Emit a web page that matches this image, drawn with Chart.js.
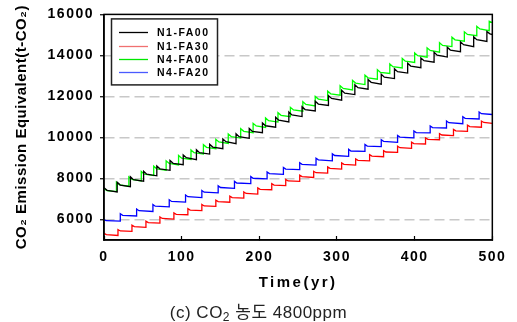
<!DOCTYPE html>
<html>
<head>
<meta charset="utf-8">
<script src="https://cdn.jsdelivr.net/npm/chart.js@4.4.1/dist/chart.umd.min.js"></script>
<style>
html, body { margin: 0; padding: 0; background: #fff; }
#wrap { position: relative; width: 517px; height: 322px; overflow: hidden; }
#caption {
    position: absolute; left: 0; top: 298px; width: 517px; line-height: 20px;
    text-align: center; color: #222; letter-spacing: 0.5px;
    font: 17px "Liberation Sans", "Noto Sans CJK KR", sans-serif;
}
#caption sub { font-size: 12px; vertical-align: -3px; line-height: 0; }
</style>
</head>
<body>
<div id="wrap">
    <canvas id="js--chart" width="517" height="322"></canvas>
    <div id="caption">(c) CO<sub>2</sub> 농도 4800ppm</div>
</div>
<script>
// years at which each series jumps up, value right after the jump,
// value a few years later (dip) and value just before the next jump
const blackYears = [0,17,34,51,68,85,102,119,136,153,170,187,204,221,238,255,272,289,306,323,340,357,374,391,408,425,442,459,476,493]
const blackHigh = [7550,7820,8080,8350,8610,8880,9150,9400,9670,9930,10180,10440,10710,10980,11240,11500,11770,12040,12300,12570,12830,13080,13350,13620,13880,14150,14400,14660,14910,15160]
const blackDip = [7420,7680,7940,8210,8470,8740,9010,9260,9530,9790,10040,10300,10570,10840,11100,11360,11630,11900,12160,12430,12690,12940,13210,13480,13740,14010,14260,14520,14770,15050]
const blackLow = [7340,7600,7870,8130,8400,8670,8920,9190,9450,9700,9960,10230,10500,10760,11020,11290,11560,11820,12090,12350,12600,12870,13140,13400,13670,13920,14180,14430,14680,15020]

const redYears = [0,18,36,54,72,90,108,126,144,162,180,198,216,234,252,270,288,306,324,342,360,378,396,414,432,450,468,486]
const redHigh = [5320,5510,5720,5920,6120,6320,6530,6730,6940,7140,7340,7540,7750,7950,8160,8350,8560,8760,8950,9160,9360,9570,9770,9980,10190,10390,10600,10800]
const redDip = [5260,5440,5650,5850,6050,6250,6460,6660,6870,7070,7270,7470,7680,7880,8090,8280,8490,8690,8880,9090,9290,9500,9700,9910,10120,10320,10530,10730]
const redLow = [5220,5420,5620,5820,6020,6230,6430,6640,6840,7040,7240,7450,7650,7860,8050,8260,8460,8650,8860,9060,9270,9470,9680,9890,10090,10300,10500,10690]

const greenYears = [0,16,32,48,64,80,96,112,128,144,160,176,192,208,224,240,256,272,288,304,320,336,352,368,384,400,416,432,448,464,480,496]
const greenHigh = [7500,7820,8080,8340,8600,8860,9120,9390,9650,9910,10170,10430,10690,10950,11210,11470,11740,12000,12260,12520,12780,13040,13300,13580,13850,14120,14370,14620,14890,15150,15420,15670]
const greenDip = [7410,7690,7950,8210,8470,8730,8990,9260,9520,9780,10040,10300,10560,10820,11080,11340,11610,11870,12130,12390,12650,12910,13170,13450,13720,13990,14240,14490,14760,15020,15290,15600]
const greenLow = [7360,7620,7880,8140,8400,8660,8930,9190,9450,9710,9970,10230,10490,10750,11010,11280,11540,11800,12060,12320,12580,12840,13120,13390,13660,13910,14160,14430,14690,14960,15210,15600]

const blueYears = [0,21,42,63,84,105,126,147,168,189,210,231,252,273,294,315,336,357,378,399,420,441,462,483]
const blueHigh = [5990,6280,6510,6730,6960,7190,7410,7640,7860,8090,8320,8540,8770,8990,9200,9420,9660,9890,10100,10320,10560,10800,11010,11240]
const blueDip = [5940,6200,6430,6650,6880,7110,7330,7560,7780,8010,8240,8460,8690,8910,9120,9340,9580,9810,10020,10240,10480,10720,10930,11160]
const blueLow = [5920,6170,6390,6620,6850,7070,7300,7520,7750,7980,8200,8430,8650,8860,9080,9320,9550,9760,9980,10220,10460,10670,10900,11120]

const xTicks = [0,100,200,300,400,500]
const yTicks = [6000,8000,10000,12000,14000,16000]
const endYear = 500

const FONT = '"Liberation Sans", Arial, sans-serif'
Chart.defaults.font.family = FONT
Chart.defaults.color = '#000'

// build one sawtooth line: jump, dip, low before next jump
const sawPoints = (years, high, dip, low, dipAfter) => {
    const pts = []
    for (let i = 0; i < years.length; i++) {
        const start = years[i]
        const end = i + 1 < years.length ? years[i + 1] : endYear
        pts.push({x: start, y: high[i]})
        if (start + dipAfter < end) pts.push({x: start + dipAfter, y: dip[i]})
        pts.push({x: end, y: low[i]})
    }
    return pts
}

// letter spacing of the axis texts: [tick labels, title]
const spacing = {x: ['1.5px', '2.5px'], y: ['1.5px', '0.5px']}
const LS = Chart.LinearScale.prototype
const baseLabels = LS.drawLabels
const baseTitle = LS.drawTitle
LS.drawLabels = function (area) {
    this.ctx.save()
    this.ctx.letterSpacing = spacing[this.id][0]
    baseLabels.call(this, area)
    this.ctx.restore()
}
LS.drawTitle = function () {
    this.ctx.save()
    this.ctx.letterSpacing = spacing[this.id][1]
    baseTitle.call(this)
    this.ctx.restore()
}

const framePlugin = {
    id: 'frame',
    afterDatasetsDraw(chart) {
        const {ctx, chartArea: a} = chart
        ctx.save()
        ctx.strokeStyle = '#000'
        ctx.lineWidth = 1.5
        ctx.strokeRect(a.left, a.top, a.right - a.left, a.bottom - a.top)
        ctx.restore()
    }
}

const boxLegend = {
    id: 'boxLegend',
    afterDraw(chart) {
        const {ctx, chartArea: a} = chart
        const x0 = a.left + 7.5, y0 = a.top + 4.5, w = 106, h = 66
        ctx.save()
        ctx.fillStyle = '#fff'
        ctx.fillRect(x0, y0, w, h)
        ctx.strokeStyle = '#222'
        ctx.lineWidth = 1.5
        ctx.strokeRect(x0, y0, w, h)
        ctx.font = 'bold 10.5px ' + FONT
        ctx.letterSpacing = '1.5px'
        ctx.textBaseline = 'middle'
        chart.data.datasets.forEach((ds, i) => {
            const y = Math.round(y0 + 13.3 + i * 13.35) + 0.5
            ctx.strokeStyle = ds.legendColor
            ctx.lineWidth = 1.3
            ctx.beginPath()
            ctx.moveTo(x0 + 7.5, y)
            ctx.lineTo(x0 + 36.5, y)
            ctx.stroke()
            ctx.fillStyle = '#000'
            ctx.fillText(ds.label, x0 + 45.5, y + 0.5)
        })
        ctx.restore()
    }
}

const line = (label, color, legendColor, pts) => ({
    label: label,
    data: pts,
    borderColor: color,
    legendColor: legendColor,
    borderWidth: 1.3,
    pointRadius: 0,
    tension: 0,
    fill: false
})

new Chart(document.getElementById('js--chart'), {
    type: 'line',
    data: {
        datasets: [
            line('N1-FA00', '#000000', '#000000', sawPoints(blackYears, blackHigh, blackDip, blackLow, 4)),
            line('N1-FA30', '#ff0000', '#f07070', sawPoints(redYears, redHigh, redDip, redLow, 3)),
            line('N4-FA00', '#00ff00', '#00e800', sawPoints(greenYears, greenHigh, greenDip, greenLow, 4)),
            line('N4-FA20', '#0000ff', '#4a5aff', sawPoints(blueYears, blueHigh, blueDip, blueLow, 3))
        ]
    },
    options: {
        responsive: false,
        animation: false,
        layout: {padding: {left: 0, right: 19, top: 14, bottom: 30}},
        plugins: {legend: {display: false}, tooltip: {enabled: false}},
        scales: {
            x: {
                type: 'linear',
                min: 0,
                max: 500,
                afterBuildTicks: s => { s.ticks = xTicks.map(v => ({value: v})) },
                afterFit: s => { s.height = 52 },
                ticks: {font: {size: 14, weight: 'bold'}, color: '#000', padding: 13, maxRotation: 0, callback: v => String(v)},
                grid: {drawOnChartArea: false, tickLength: -4, tickColor: '#000', tickWidth: 1.2},
                border: {color: '#000', width: 1.5},
                title: {display: true, text: 'Time(yr)', color: '#000', font: {size: 15, weight: 'bold'}, padding: {top: 0, bottom: 0}}
            },
            y: {
                min: 5000,
                max: 16000,
                afterBuildTicks: s => { s.ticks = yTicks.map(v => ({value: v})) },
                afterFit: s => { s.width = 104 },
                ticks: {font: {size: 14, weight: 'bold'}, color: '#000', padding: 6, callback: v => String(v)},
                grid: {
                    color: c => (c.tick && c.tick.value === 16000) ? 'rgba(0,0,0,0)' : '#c8c8c8',
                    lineWidth: 1.5,
                    tickLength: 4,
                    tickColor: '#000',
                    tickWidth: 1.2,
                    tickBorderDash: []
                },
                border: {color: '#000', width: 1.5, dash: [10, 5]},
                title: {display: true, text: 'CO₂ Emission Equivalent(t-CO₂)', color: '#000', font: {size: 15, weight: 'bold'}, padding: {top: 13, bottom: 0}}
            }
        }
    },
    plugins: [framePlugin, boxLegend]
})
</script>
</body>
</html>
